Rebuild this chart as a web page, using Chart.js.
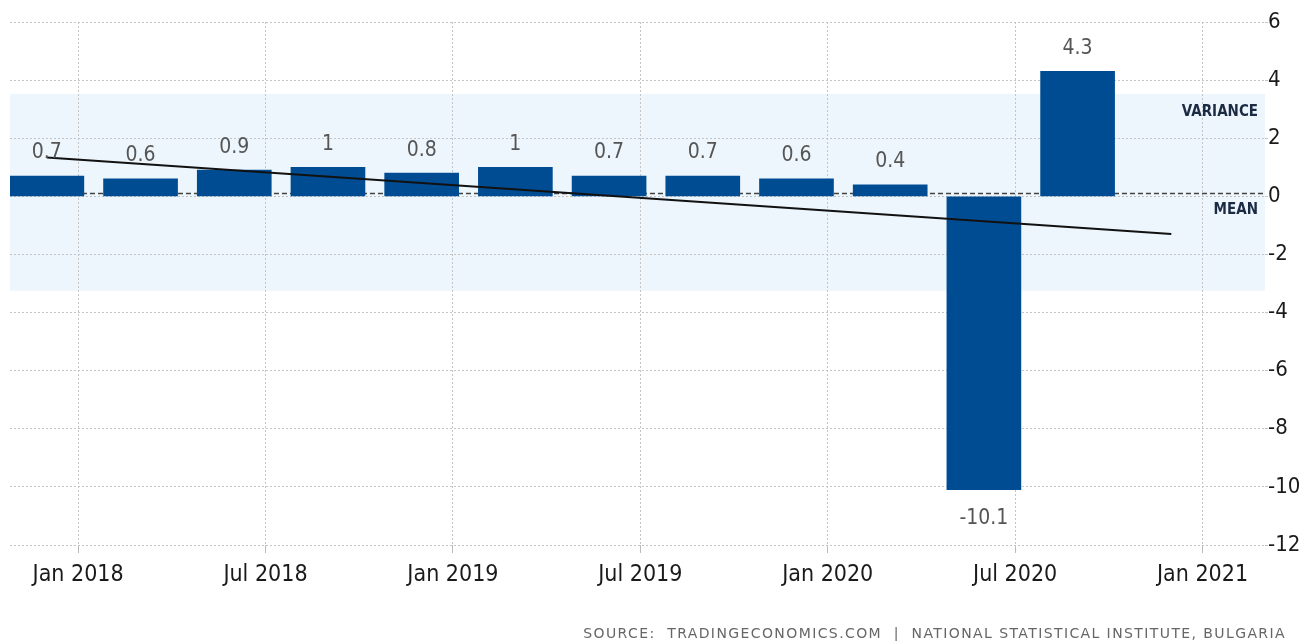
<!DOCTYPE html>
<html>
<head>
<meta charset="utf-8">
<script src="https://cdn.jsdelivr.net/npm/chart.js@4/dist/chart.umd.min.js"></script>
<style>
  html, body { margin: 0; padding: 0; background: #ffffff; }
  #wrap { width: 1305px; height: 641px; }
</style>
</head>
<body>
<div id="wrap"><canvas id="c" width="1305" height="641"></canvas></div>
<script>
// Quarters, placed at month offsets from Jan 2018 (Dec 2017 = -1)
const categories = ['Q4 2017','Q1 2018','Q2 2018','Q3 2018','Q4 2018','Q1 2019','Q2 2019','Q3 2019','Q4 2019','Q1 2020','Q2 2020','Q3 2020'];
const barMonths = [-1, 2, 5, 8, 11, 14, 17, 20, 23, 26, 29, 32];
const values = [0.7, 0.6, 0.9, 1, 0.8, 1, 0.7, 0.7, 0.6, 0.4, -10.1, 4.3];

const xTickMonths = [0, 6, 12, 18, 24, 30, 36];
const xTickLabels = ['Jan 2018', 'Jul 2018', 'Jan 2019', 'Jul 2019', 'Jan 2020', 'Jul 2020', 'Jan 2021'];
const yTicks = [6, 4, 2, 0, -2, -4, -6, -8, -10, -12];

const trendMonths = [-1, 35];
const trendValues = [1.34, -1.3];

const meanValue = 0.13;
const varianceBand = [-3.25, 3.52];

const sourceText = 'SOURCE:  TRADINGECONOMICS.COM  |  NATIONAL STATISTICAL INSTITUTE, BULGARIA';

const FONT = '"DejaVu Sans Condensed", "DejaVu Sans", sans-serif';

const bandPlugin = {
  id: 'band',
  beforeDraw(chart) {
    const { ctx, chartArea, scales } = chart;
    const y = scales.y;
    const top = y.getPixelForValue(varianceBand[1]);
    const bot = y.getPixelForValue(varianceBand[0]);
    ctx.save();
    ctx.fillStyle = '#edf6fd';
    ctx.fillRect(chartArea.left, top, chartArea.right - chartArea.left, bot - top);
    ctx.restore();
  },
  beforeDatasetsDraw(chart) {
    const { ctx, chartArea, scales } = chart;
    const y = scales.y;
    const my = Math.round(y.getPixelForValue(meanValue)) + 0.5;
    ctx.save();
    ctx.strokeStyle = '#444444';
    ctx.lineWidth = 1.5;
    ctx.setLineDash([5, 3]);
    ctx.beginPath();
    ctx.moveTo(chartArea.left, my);
    ctx.lineTo(chartArea.right, my);
    ctx.stroke();
    ctx.setLineDash([]);
    ctx.fillStyle = '#1c2b44';
    ctx.font = 'bold 15px ' + FONT;
    ctx.textAlign = 'right';
    ctx.textBaseline = 'middle';
    ctx.fillText('VARIANCE', chartArea.right - 7, y.getPixelForValue(varianceBand[1]) + 18);
    ctx.fillText('MEAN', chartArea.right - 7, my + 17);
    ctx.restore();
  },
  afterDatasetsDraw(chart) {
    const { ctx } = chart;
    const meta = chart.getDatasetMeta(0);
    ctx.save();
    ctx.font = '21px ' + FONT;
    ctx.fillStyle = '#555555';
    ctx.textAlign = 'center';
    ctx.textBaseline = 'middle';
    meta.data.forEach((bar, i) => {
      const v = values[i];
      const yy = v >= 0 ? bar.y - 23 : bar.y + 29;
      ctx.fillText(String(v), bar.x, yy);
    });
    ctx.restore();
  },
  afterDraw(chart) {
    const { ctx } = chart;
    ctx.save();
    ctx.font = '14px "DejaVu Sans", sans-serif';
    ctx.fillStyle = '#666666';
    ctx.textAlign = 'right';
    ctx.textBaseline = 'alphabetic';
    try { ctx.letterSpacing = '1.4px'; } catch (e) {}
    ctx.fillText(sourceText, 1286, 638);
    ctx.restore();
  }
};

new Chart(document.getElementById('c'), {
  data: {
    datasets: [
      {
        type: 'bar',
        data: barMonths.map((m, i) => ({ x: m, y: values[i] })),
        backgroundColor: '#004c93',
        barThickness: 74,
        order: 2
      },
      {
        type: 'line',
        data: trendMonths.map((m, i) => ({ x: m, y: trendValues[i] })),
        borderColor: '#111111',
        borderWidth: 2,
        pointRadius: 0,
        fill: false,
        order: 1
      }
    ]
  },
  options: {
    responsive: false,
    animation: false,
    layout: { padding: { left: 10, right: 0, top: 22, bottom: 0 } },
    plugins: { legend: { display: false }, tooltip: { enabled: false } },
    scales: {
      x: {
        type: 'linear',
        min: -2.18,
        max: 38,
        offset: false,
        afterBuildTicks: (s) => { s.ticks = xTickMonths.map(v => ({ value: v })); },
        afterFit: (s) => { s.height = 96; },
        ticks: {
          autoSkip: false,
          maxRotation: 0,
          padding: 8,
          color: '#1a1a1a',
          font: { family: FONT, size: 23 },
          callback: (v) => xTickLabels[xTickMonths.indexOf(v)]
        },
        grid: { offset: false, color: '#c4c4c4', tickLength: 8, tickColor: '#bbbbbb' },
        border: { display: false, dash: [2, 2] }
      },
      y: {
        type: 'linear',
        position: 'right',
        min: -12,
        max: 6,
        afterBuildTicks: (s) => { s.ticks = yTicks.map(v => ({ value: v })); },
        afterFit: (s) => { s.width = 40; },
        ticks: {
          padding: 0,
          color: '#1a1a1a',
          font: { family: FONT, size: 22 }
        },
        grid: { color: '#c4c4c4', tickLength: 3 },
        border: { display: false, dash: [2, 2] }
      }
    }
  },
  plugins: [bandPlugin]
});
</script>
</body>
</html>
